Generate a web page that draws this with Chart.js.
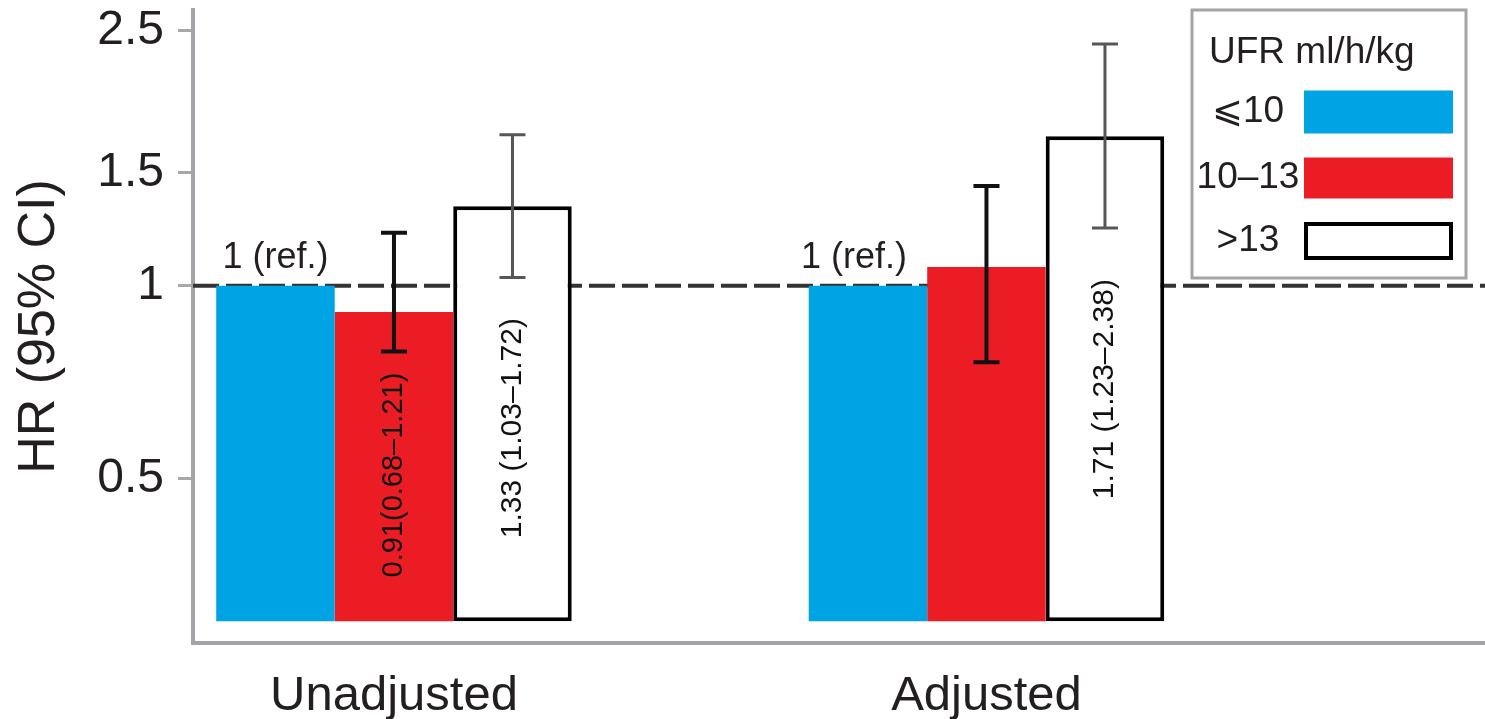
<!DOCTYPE html>
<html>
<head>
<meta charset="utf-8">
<script src="https://cdn.jsdelivr.net/npm/chart.js@4.4.1/dist/chart.umd.min.js"></script>
<style>
  html, body { margin: 0; padding: 0; background: #ffffff; }
  #wrap { width: 1485px; height: 719px; }
</style>
</head>
<body>
<div id="wrap"><canvas id="hr-chart" width="1485" height="719"></canvas></div>
<script>
// ---- data ----
const CATEGORIES = ["Unadjusted", "Adjusted"];
const SERIES_LABELS = ["\u2A7D10", "10\u201313", ">13"];
const LEGEND_TITLE = "UFR ml/h/kg";
const HR_LE10 = [1, 1];
const HR_10_13 = [0.91, 1.07];
const HR_GT13 = [1.33, 1.71];
const CI_LOW_10_13 = [0.79, 0.76];
const CI_HIGH_10_13 = [1.21, 1.43];
const CI_LOW_GT13 = [1.03, 1.23];
const CI_HIGH_GT13 = [1.72, 2.38];
const BAR_TEXT_10_13 = ["0.91(0.68\u20131.21)", ""];
const BAR_TEXT_GT13 = ["1.33 (1.03\u20131.72)", "1.71 (1.23\u20132.38)"];
const REF_TEXT = "1 (ref.)";
const Y_TICKS = [0.5, 1, 1.5, 2.5];
const Y_TICK_LABELS = ["0.5", "1", "1.5", "2.5"];
const REF_VALUE = 1;
const BAR_BASE = 0.3;

// ---- look ----
const BLUE = "#00a3e4";
const RED = "#ec1c24";
const INK = "#231f20";
const AXIS_GREY = "#a2a4a7";
const FONT = "'Liberation Sans', Arial, Helvetica, sans-serif";
const X_MIN = -0.3392;
const X_MAX = 1.8414;
// where the rotated value texts sit (centre, in HR units on the log axis)
const TEXT_CENTER_10_13 = [0.507, null];
const TEXT_CENTER_GT13 = [0.6, 0.69];

function points(values) {
  return values.map((v, i) => ({ x: i, y: v }));
}

const errorSets = [
  { dataset: 2, low: CI_LOW_10_13, high: CI_HIGH_10_13, color: "#111111", width: 4 },
  { dataset: 3, low: CI_LOW_GT13, high: CI_HIGH_GT13, color: "#555658", width: 3 },
];

const errorBarPlugin = {
  id: "errorBars",
  afterDatasetsDraw(chart) {
    const ctx = chart.ctx;
    const yScale = chart.scales.y;
    errorSets.forEach((set) => {
      const meta = chart.getDatasetMeta(set.dataset);
      meta.data.forEach((bar, i) => {
        const top = yScale.getPixelForValue(set.high[i]);
        const bottom = yScale.getPixelForValue(set.low[i]);
        ctx.save();
        ctx.strokeStyle = set.color;
        ctx.lineWidth = set.width;
        ctx.beginPath();
        ctx.moveTo(bar.x, top);
        ctx.lineTo(bar.x, bottom);
        ctx.moveTo(bar.x - 13, top);
        ctx.lineTo(bar.x + 13, top);
        ctx.moveTo(bar.x - 13, bottom);
        ctx.lineTo(bar.x + 13, bottom);
        ctx.stroke();
        ctx.restore();
      });
    });
  },
};

const barTextPlugin = {
  id: "barTexts",
  afterDatasetsDraw(chart) {
    const ctx = chart.ctx;
    const yScale = chart.scales.y;
    ctx.save();
    ctx.fillStyle = INK;
    // "1 (ref.)" above the reference bars
    ctx.font = "36px " + FONT;
    ctx.textAlign = "center";
    ctx.textBaseline = "alphabetic";
    chart.getDatasetMeta(1).data.forEach((bar, i) => {
      const nudge = i === 0 ? 0 : -14; // second label sits a bit left in the figure
      ctx.fillText(REF_TEXT, bar.x + nudge, yScale.getPixelForValue(HR_LE10[i]) - 18);
    });
    // rotated estimates inside the bars
    const rotated = [
      { dataset: 2, texts: BAR_TEXT_10_13, centers: TEXT_CENTER_10_13 },
      { dataset: 3, texts: BAR_TEXT_GT13, centers: TEXT_CENTER_GT13 },
    ];
    ctx.fillStyle = "#111111";
    ctx.textBaseline = "middle";
    rotated.forEach((r) => {
      ctx.font = (r.dataset === 2 ? "29px " : "30px ") + FONT;
      chart.getDatasetMeta(r.dataset).data.forEach((bar, i) => {
        if (!r.texts[i]) return;
        ctx.save();
        ctx.translate(bar.x, yScale.getPixelForValue(r.centers[i]));
        ctx.rotate(-Math.PI / 2);
        ctx.fillText(r.texts[i], 0, 0);
        ctx.restore();
      });
    });
    ctx.restore();
  },
};

const legendPlugin = {
  id: "boxLegend",
  afterDraw(chart) {
    const ctx = chart.ctx;
    const left = 1192, top = 10, w = 274, h = 268;
    ctx.save();
    ctx.fillStyle = "#ffffff";
    ctx.fillRect(left, top, w, h);
    ctx.strokeStyle = AXIS_GREY;
    ctx.lineWidth = 3;
    ctx.strokeRect(left, top, w, h);
    ctx.fillStyle = INK;
    ctx.font = "37px " + FONT;
    ctx.textBaseline = "middle";
    ctx.textAlign = "left";
    ctx.fillText(LEGEND_TITLE, 1209, 53);
    ctx.textAlign = "center";
    const rowY = [112, 178, 241];
    const swatchH = [43, 41, 38];
    chart.data.datasets.slice(1).forEach((ds, i) => {
      ctx.fillStyle = INK;
      ctx.fillText(ds.label, 1248, rowY[i]);
      const sx = 1304, sw = 149, sy = rowY[i] - swatchH[i] / 2;
      ctx.fillStyle = ds.backgroundColor;
      ctx.fillRect(sx, sy, sw, swatchH[i]);
      if (ds.borderWidth) {
        ctx.strokeStyle = ds.borderColor;
        ctx.lineWidth = ds.borderWidth;
        ctx.strokeRect(sx + 2, sy + 2, sw - 4, swatchH[i] - 4);
      }
    });
    ctx.restore();
  },
};

const chart = new Chart(document.getElementById("hr-chart").getContext("2d"), {
  type: "bar",
  data: {
    datasets: [
      {
        type: "line",
        label: "ref",
        data: [{ x: X_MIN, y: REF_VALUE }, { x: X_MAX, y: REF_VALUE }],
        borderColor: "#333333",
        borderWidth: 4,
        borderDash: [26, 7],
        pointRadius: 0,
        order: 5,
      },
      {
        label: SERIES_LABELS[0],
        data: points(HR_LE10),
        backgroundColor: BLUE,
        borderWidth: 0,
        base: BAR_BASE,
        order: 1,
      },
      {
        label: SERIES_LABELS[1],
        data: points(HR_10_13),
        backgroundColor: RED,
        borderWidth: 0,
        base: BAR_BASE,
        order: 1,
      },
      {
        label: SERIES_LABELS[2],
        data: points(HR_GT13),
        backgroundColor: "#ffffff",
        borderColor: "#000000",
        borderWidth: 4,
        borderSkipped: false,
        base: BAR_BASE,
        order: 1,
      },
    ],
  },
  options: {
    responsive: false,
    animation: false,
    layout: { padding: { top: 10, right: 0, left: 0, bottom: 0 }, autoPadding: false },
    categoryPercentage: 0.6,
    barPercentage: 1,
    plugins: {
      legend: { display: false },
      tooltip: { enabled: false },
    },
    scales: {
      x: {
        type: "linear",
        offset: false,
        min: X_MIN,
        max: X_MAX,
        afterBuildTicks(scale) {
          scale.ticks = CATEGORIES.map((c, i) => ({ value: i }));
        },
        afterFit(scale) {
          scale.height = 76;
          scale.paddingLeft = 0;
          scale.paddingRight = 0;
        },
        grid: { display: false },
        border: { display: true, color: AXIS_GREY, width: 4 },
        ticks: {
          color: INK,
          padding: 16,
          font: { family: FONT, size: 49 },
          callback: (value) => CATEGORIES[value],
        },
      },
      y: {
        type: "logarithmic",
        min: 0.2775,
        max: 2.69,
        afterBuildTicks(scale) {
          scale.ticks = Y_TICKS.map((v) => ({ value: v }));
        },
        afterFit(scale) {
          scale.width = 193;
          scale.paddingTop = 0;
          scale.paddingBottom = 0;
        },
        grid: {
          drawOnChartArea: false,
          drawTicks: true,
          tickLength: 15,
          tickColor: "#a8a8a8",
          tickWidth: 3,
        },
        border: { display: true, color: AXIS_GREY, width: 4 },
        title: {
          display: true,
          text: "HR (95% CI)",
          color: INK,
          font: { family: FONT, size: 52 },
          padding: { top: 8, bottom: 0 },
        },
        ticks: {
          color: INK,
          padding: 14,
          font: { family: FONT, size: 48 },
          callback: (value) => {
            const k = Y_TICKS.indexOf(value);
            return k >= 0 ? Y_TICK_LABELS[k] : "";
          },
        },
      },
    },
  },
  plugins: [errorBarPlugin, barTextPlugin, legendPlugin],
});
</script>
</body>
</html>
